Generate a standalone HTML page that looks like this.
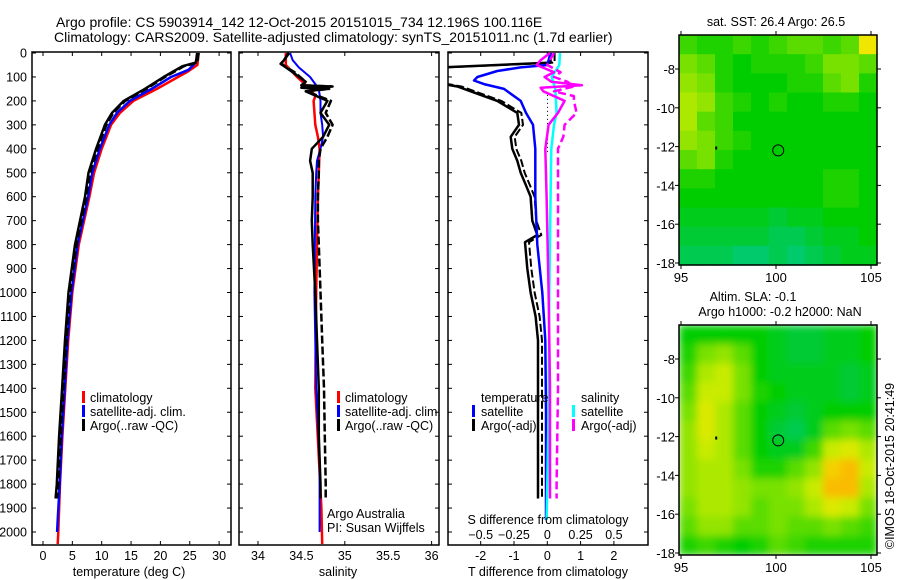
<!DOCTYPE html>
<html><head><meta charset="utf-8">
<style>
html,body{margin:0;padding:0;background:#fff;}
svg{display:block;font-family:"Liberation Sans",sans-serif;}
</style></head>
<body>
<svg id="fig" width="900" height="580" viewBox="0 0 900 580" xmlns="http://www.w3.org/2000/svg">
<text x="56" y="27" font-size="14">Argo profile: CS 5903914_142 12-Oct-2015 20151015_734 12.196S 100.116E</text>
<text x="54" y="42" font-size="14">Climatology: CARS2009. Satellite-adjusted climatology: synTS_20151011.nc (1.7d earlier)</text>
<g id="g1"></g>
<g id="g2"></g>
<g id="g3"></g>
<g id="m1"></g>
<g id="m2"></g>
<text transform="translate(894,466) rotate(-90)" text-anchor="middle" font-size="12.5">©IMOS 18-Oct-2015 20:41:49</text>
</svg>
<script>
// ---- data ----
const depthTicks=[0,100,200,300,400,500,600,700,800,900,1000,1100,1200,1300,1400,1500,1600,1700,1800,1900,2000];
const tempTicks=[0,5,10,15,20,25,30];
const salTicks=[34,34.5,35,35.5,36];
const tdiffTicks=[-2,-1,0,1,2];
const sdiffTicks=[-0.5,-0.25,0,0.25,0.5];
const lonTicks=[95,100,105];
const latTicks=[-8,-10,-12,-14,-16,-18];

const climT_z=[0,50,80,100,150,200,250,300,400,500,600,800,1000,1200,1400,1600,1800,2000,2050];
const climT_v=[26.5,26.3,24.5,23,19.4,15.4,13.1,11.6,10,8.7,7.9,6.1,5.0,4.3,3.8,3.3,2.9,2.6,2.5];
const satT_z=[0,40,70,100,150,200,250,300,400,500,600,800,1000,1200,1400,1600,1800,1950,2000];
const satT_v=[26.5,26,24.8,21.8,18.5,14.8,12.6,11.3,9.7,8.4,7.7,5.9,4.85,4.15,3.7,3.2,2.85,2.5,2.4];
const argoT_z=[0,40,55,100,150,200,250,300,400,500,600,800,1000,1200,1400,1600,1800,1860];
const argoT_v=[26.5,26.3,24,20.8,17.6,14,12,10.8,9.3,8,7.4,5.7,4.6,4.0,3.5,3.0,2.6,2.4];

const climS_z=[0,50,100,150,180,200,300,350,400,500,600,1000,1400,1900,2050];
const climS_v=[34.32,34.32,34.45,34.6,34.66,34.64,34.66,34.69,34.71,34.70,34.69,34.67,34.66,34.73,34.74];
const satS_z=[0,30,60,100,150,200,250,300,350,400,450,500,600,1000,1400,1700,2000];
const satS_v=[34.37,34.4,34.47,34.6,34.7,34.72,34.72,34.74,34.75,34.72,34.68,34.67,34.66,34.65,34.67,34.71,34.71];
const argoS_z=[0,30,45,60,80,120,135,140,145,150,160,200,250,300,350,400,450,500,600,700,800,1000,1200,1400,1600,1800,1860];
const argoS_v=[34.35,34.3,34.26,34.32,34.4,34.55,34.5,34.85,34.5,34.8,34.55,34.8,34.72,34.82,34.75,34.62,34.6,34.63,34.63,34.62,34.63,34.66,34.68,34.7,34.7,34.72,34.72];
const argoSq_v=[34.36,34.3,34.27,34.33,34.42,34.55,34.5,34.86,34.5,34.82,34.56,34.84,34.78,34.86,34.8,34.72,34.7,34.7,34.69,34.69,34.7,34.72,34.74,34.76,34.77,34.78,34.78];

const dSatT_z=[0,50,60,75,100,115,130,150,200,250,300,400,600,800,1000,1200,1500,1800,1950];
const dSatT_v=[0.1,0,-0.8,-1.5,-2.1,-2.2,-1.9,-1.3,-0.8,-0.64,-0.43,-0.36,-0.36,-0.3,-0.15,-0.06,-0.04,-0.04,-0.04];
const dArgoT_z=[0,40,50,60,100,130,140,160,200,250,300,350,400,450,500,550,600,700,760,790,900,1000,1100,1200,1600,1860];
const dArgoT_v=[0.1,0.1,-1.5,-3.2,-4,-3.1,-2.7,-2.3,-1.5,-0.9,-0.85,-1.1,-1.05,-0.9,-0.8,-0.65,-0.5,-0.45,-0.3,-0.67,-0.6,-0.5,-0.35,-0.28,-0.28,-0.28];
const dSatS_z=[0,50,100,150,250,300,400,600,1000,1500,1950];
const dSatS_v=[0.095,0.09,0.033,0.06,0.07,0.05,0.03,0.025,0.015,0.01,-0.005];
const dArgoS_z=[0,30,50,80,100,120,135,145,160,200,250,300,400,600,1000,1400,1800,1860];
const dArgoS_v=[0.02,-0.05,-0.08,0.05,-0.02,0.03,0.26,-0.05,-0.03,0.13,0.08,0.01,-0.015,-0.005,0.01,0.02,0.02,0.02];
const dArgoSq_z=[0,50,80,100,120,140,160,180,200,250,300,350,400,600,1000,1400,1800,1860];
const dArgoSq_v=[0.05,0,0.1,0.05,0.15,0.2,0.05,0.2,0.2,0.22,0.13,0.12,0.08,0.08,0.08,0.08,0.07,0.07];

const sstGrid=[
[0.4,0.35,0.35,0.4,0.35,0.4,0.45,0.45,0.4,0.45,0.75],
[0.5,0.45,0.35,0.3,0.35,0.35,0.35,0.4,0.5,0.5,0.45],
[0.55,0.5,0.35,0.3,0.3,0.3,0.35,0.35,0.45,0.5,0.35],
[0.6,0.55,0.4,0.35,0.3,0.35,0.3,0.3,0.35,0.35,0.3],
[0.6,0.45,0.4,0.3,0.3,0.3,0.3,0.3,0.3,0.3,0.3],
[0.55,0.5,0.4,0.35,0.3,0.3,0.3,0.3,0.3,0.3,0.3],
[0.45,0.5,0.35,0.3,0.3,0.3,0.3,0.3,0.3,0.3,0.3],
[0.35,0.35,0.3,0.3,0.3,0.3,0.3,0.3,0.35,0.35,0.3],
[0.3,0.3,0.3,0.3,0.3,0.3,0.3,0.3,0.35,0.35,0.3],
[0.25,0.25,0.25,0.25,0.25,0.2,0.25,0.25,0.3,0.3,0.3],
[0.2,0.2,0.2,0.2,0.2,0.15,0.15,0.2,0.25,0.25,0.3],
[0.15,0.15,0.15,0.1,0.1,0.15,0.1,0.15,0.2,0.25,0.25]];
const slaGrid=[
[0.3,0.3,0.3,0.3,0.3,0.25,0.2,0.2,0.25,0.25,0.3],
[0.35,0.5,0.55,0.45,0.3,0.25,0.2,0.2,0.25,0.25,0.3],
[0.4,0.6,0.65,0.5,0.3,0.25,0.25,0.25,0.25,0.2,0.25],
[0.45,0.65,0.65,0.5,0.35,0.3,0.25,0.25,0.25,0.2,0.25],
[0.5,0.7,0.6,0.45,0.3,0.25,0.2,0.25,0.3,0.3,0.3],
[0.55,0.7,0.6,0.45,0.3,0.2,0.15,0.25,0.45,0.5,0.45],
[0.55,0.65,0.6,0.45,0.3,0.25,0.25,0.4,0.65,0.7,0.6],
[0.55,0.6,0.6,0.5,0.35,0.35,0.45,0.55,0.8,0.85,0.65],
[0.55,0.6,0.6,0.55,0.5,0.5,0.55,0.65,0.85,0.85,0.6],
[0.5,0.6,0.6,0.55,0.45,0.5,0.5,0.6,0.7,0.65,0.5],
[0.45,0.55,0.55,0.45,0.45,0.5,0.45,0.45,0.5,0.45,0.4],
[0.35,0.4,0.35,0.3,0.35,0.45,0.4,0.35,0.35,0.35,0.35]];
const argoLon=[100.116];
const argoLat=[-12.196];

// ---- helpers ----
const NS='http://www.w3.org/2000/svg';
function mk(parent,tag,attrs){const e=document.createElementNS(NS,tag);for(const k in attrs)e.setAttribute(k,attrs[k]);parent.appendChild(e);return e;}
const Y=z=>53+z*0.2395;
function frame(g,x0,x1,y0,y1){
  const r=mk(g,'rect',{x:x0,y:y0,width:x1-x0,height:y1-y0,fill:'none',stroke:'#000','stroke-width':1.5});
  
  
}
function yTicks(g,x0,x1,labels){
  depthTicks.forEach(d=>{
    mk(g,'line',{x1:x0,x2:x0+4,y1:Y(d),y2:Y(d),stroke:'#000'});
    mk(g,'line',{x1:x1,x2:x1-4,y1:Y(d),y2:Y(d),stroke:'#000'});
    if(labels){const t=mk(g,'text',{x:x0-5,y:Y(d)+4.5,'font-size':12.5,'text-anchor':'end'});t.textContent=d;
      
      }
  });
}
function xTicks(g,ticks,sx,y0,y1,labelY,ticksOnly){
  ticks.forEach(v=>{
    mk(g,'line',{x1:sx(v),x2:sx(v),y1:y1,y2:y1-4,stroke:'#000'});
    mk(g,'line',{x1:sx(v),x2:sx(v),y1:y0,y2:y0+4,stroke:'#000'});
    if(!ticksOnly){const t=mk(g,'text',{x:sx(v),y:labelY,'font-size':12.5,'text-anchor':'middle'});t.textContent=v;
      
      }
  });
}
function line(g,zs,vs,sx,color,w,dash,name,clip){
  const pts=zs.map((z,i)=>sx(vs[i]).toFixed(1)+','+Y(z).toFixed(1)).join(' ');
  const p=mk(g,'polyline',{points:pts,fill:'none',stroke:color,'stroke-width':w,'stroke-linejoin':'round'});
  if(dash)p.setAttribute('stroke-dasharray',dash);
  if(clip)p.setAttribute('clip-path','url(#'+clip+')');
  
  
}
function label(g,x,y,txt,name,anchor,size){
  const t=mk(g,'text',{x:x,y:y,'font-size':size||12.5,'text-anchor':anchor||'start'});t.textContent=txt;
  
  
}
function legMark(g,x,y,color,name){
  const r=mk(g,'rect',{x:x,y:y-10,width:3,height:12,fill:color});
  
  
}

const svg=document.getElementById('fig');
const defs=mk(svg,'defs',{});
const cp=mk(defs,'clipPath',{id:'c3'});mk(cp,'rect',{x:448,y:52,width:200,height:493});
const cpm=mk(defs,'clipPath',{id:'cm2'});mk(cpm,'rect',{x:679,y:325,width:198,height:230});
const flt=mk(defs,'filter',{id:'blur2',x:'-10%',y:'-10%',width:'120%',height:'120%'});
mk(flt,'feGaussianBlur',{stdDeviation:4,edgeMode:'duplicate'});

// ---- panel 1 ----
const g1=document.getElementById('g1');
const sxT=v=>43+v*5.87;
frame(g1,32,231,52,545);yTicks(g1,32,231,true);
xTicks(g1,tempTicks,sxT,52,545,560);
line(g1,climT_z,climT_v,sxT,'#f00',2.5,null,'climatology-temp-line');
line(g1,satT_z,satT_v,sxT,'#00f',2.5,null,'satellite-temp-line');
line(g1,argoT_z,argoT_v.map(v=>v-0.25),sxT,'#000',2.5,null,'argo-raw-temp-line');
line(g1,argoT_z,argoT_v,sxT,'#000',2.5,'8,3','argo-qc-temp-line');
legMark(g1,82,401,'#f00','legend-climatology-mark');label(g1,90,402,'climatology','legend-climatology');
legMark(g1,82,415,'#00f','legend-satellite-mark');label(g1,90,416,'satellite-adj. clim.','legend-satellite');
legMark(g1,82,429,'#000','legend-argo-mark');label(g1,90,430,'Argo(..raw -QC)','legend-argo');
label(g1,129,576,'temperature (deg C)','x-axis-title-temperature','middle');

// ---- panel 2 ----
const g2=document.getElementById('g2');
const sxS=v=>258+(v-34)*86.8;
frame(g2,239,439,52,545);yTicks(g2,239,439,false);
xTicks(g2,[34,35,36],sxS,52,545,0,true);
salTicks.forEach(v=>label(g2,sxS(v),560,String(v),'salinity-tick-label','middle'));
line(g2,climS_z,climS_v,sxS,'#f00',2.5,null,'climatology-salinity-line');
line(g2,satS_z,satS_v,sxS,'#00f',2,null,'satellite-salinity-line');
line(g2,argoS_z,argoS_v,sxS,'#000',2.5,null,'argo-raw-salinity-line');
line(g2,argoS_z,argoSq_v,sxS,'#000',2.5,'8,3','argo-qc-salinity-line');
legMark(g2,337,401,'#f00','legend-climatology-mark');label(g2,345,402,'climatology','legend-climatology');
legMark(g2,337,415,'#00f','legend-satellite-mark');label(g2,345,416,'satellite-adj. clim.','legend-satellite');
legMark(g2,337,429,'#000','legend-argo-mark');label(g2,345,430,'Argo(..raw -QC)','legend-argo');
label(g2,327,518,'Argo Australia','argo-australia-note');
label(g2,327,532,'PI: Susan Wijffels','pi-note');
label(g2,338,576,'salinity','x-axis-title-salinity','middle');

// ---- panel 3 ----
const g3=document.getElementById('g3');
const sxD=v=>547.3+v*33.3;
const sxSD=v=>547.3+v*133.2;
frame(g3,448,648,52,545);yTicks(g3,448,648,false);
xTicks(g3,tdiffTicks,sxD,52,545,560);
const dl=mk(g3,'line',{x1:547.5,x2:547.5,y1:Y(175),y2:Y(420),stroke:'#000','stroke-dasharray':'1,3'});


line(g3,dArgoT_z,dArgoT_v,sxD,'#000',2.5,null,'argo-temp-diff-line','c3');
line(g3,dArgoT_z,dArgoT_v.map(v=>v+0.12),sxD,'#000',2,'8,3','argo-adj-temp-diff-line','c3');
line(g3,dSatT_z,dSatT_v,sxD,'#00f',2.5,null,'satellite-temp-diff-line','c3');
line(g3,dSatS_z,dSatS_v,sxSD,'#0ff',2.5,null,'satellite-sal-diff-line','c3');
line(g3,dArgoS_z,dArgoS_v,sxSD,'#f0f',2.5,null,'argo-sal-diff-line','c3');
line(g3,dArgoSq_z,dArgoSq_v,sxSD,'#f0f',2.5,'8,4','argo-adj-sal-diff-line','c3');
label(g3,481,402,'temperature','legend-temperature-header');
legMark(g3,472,415,'#00f','legend-t-satellite-mark');label(g3,481,416,'satellite','legend-t-satellite');
legMark(g3,472,429,'#000','legend-t-argo-mark');label(g3,481,430,'Argo(-adj)','legend-t-argo');
label(g3,581,402,'salinity','legend-salinity-header');
legMark(g3,572,415,'#0ff','legend-s-satellite-mark');label(g3,581,416,'satellite','legend-s-satellite');
legMark(g3,572,429,'#f0f','legend-s-argo-mark');label(g3,581,430,'Argo(-adj)','legend-s-argo');
label(g3,548,524,'S difference from climatology','s-diff-axis-title','middle');
sdiffTicks.forEach(v=>label(g3,sxSD(v),539,String(v).replace('-','\u2212'),'s-diff-tick-label','middle'));
label(g3,548,576,'T difference from climatology','t-diff-axis-title','middle');

// ---- maps ----
function cmap(v){
  const stops=[[0,[0,200,160]],[0.3,[0,205,0]],[0.5,[120,225,0]],[0.65,[200,235,0]],[0.75,[240,230,0]],[0.9,[255,165,0]],[1,[255,120,0]]];
  for(let i=1;i<stops.length;i++){if(v<=stops[i][0]){const a=stops[i-1],b=stops[i],t=(v-a[0])/(b[0]-a[0]);
    return 'rgb('+a[1].map((c,k)=>Math.round(c+(b[1][k]-c)*t)).join(',')+')';}}
  return 'rgb(255,120,0)';
}
function drawMap(g,grid,top,titles,smooth){
  const x0=679,x1=877,y0=top,y1=top+230;
  const lx=v=>681+(v-95)*19.0, ly=v=>top+34+(-8-v)*19.4;
  const rows=grid.length,cols=grid[0].length,cw=(x1-x0)/cols,ch=(y1-y0)/rows;
  let cellG=g;
  if(smooth){const outer=mk(g,'g',{'clip-path':'url(#cm2)'});cellG=mk(outer,'g',{filter:'url(#blur2)'});}
  grid.forEach((row,r)=>row.forEach((v,c)=>{
    const e=mk(cellG,'rect',{x:(x0+c*cw).toFixed(2),y:(y0+r*ch).toFixed(2),width:(cw+0.6).toFixed(2),height:(ch+0.6).toFixed(2),fill:cmap(v)});
    
    
  }));
  const f=mk(g,'rect',{x:x0,y:y0,width:x1-x0,height:y1-y0,fill:'none',stroke:'#000','stroke-width':1.5});
  
  
  lonTicks.forEach(v=>{mk(g,'line',{x1:lx(v),x2:lx(v),y1:y1,y2:y1+4,stroke:'#000'});mk(g,'line',{x1:lx(v),x2:lx(v),y1:y0,y2:y0-4,stroke:'#000'});
    label(g,lx(v),y1+17,String(v),'map-lon-label','middle',13);});
  latTicks.forEach(v=>{mk(g,'line',{x1:x0,x2:x0-4,y1:ly(v),y2:ly(v),stroke:'#000'});mk(g,'line',{x1:x1,x2:x1+4,y1:ly(v),y2:ly(v),stroke:'#000'});
    label(g,x0-4,ly(v)+5,String(v),'map-lat-label','end',13);});
  argoLon.forEach((lo,i)=>{const c=mk(g,'circle',{cx:lx(lo),cy:ly(argoLat[i]),r:5.5,fill:'none',stroke:'#000','stroke-width':1});
    
    });
  mk(g,'rect',{x:lx(96.8),y:ly(-12.1)-2,width:2,height:3,fill:'#000'});
  titles.forEach(t=>label(g,t[0],t[1],t[2],t[3],t[4],12.5));
}
drawMap(document.getElementById('m1'),sstGrid,35,[[776,26,'sat. SST: 26.4 Argo: 26.5','sst-map-title','middle']],false);
drawMap(document.getElementById('m2'),slaGrid,325,[[753,301,'Altim. SLA: -0.1','sla-map-title','middle'],[780,316,'Argo h1000: -0.2 h2000: NaN','sla-map-subtitle','middle']],true);
</script>
</body></html>
